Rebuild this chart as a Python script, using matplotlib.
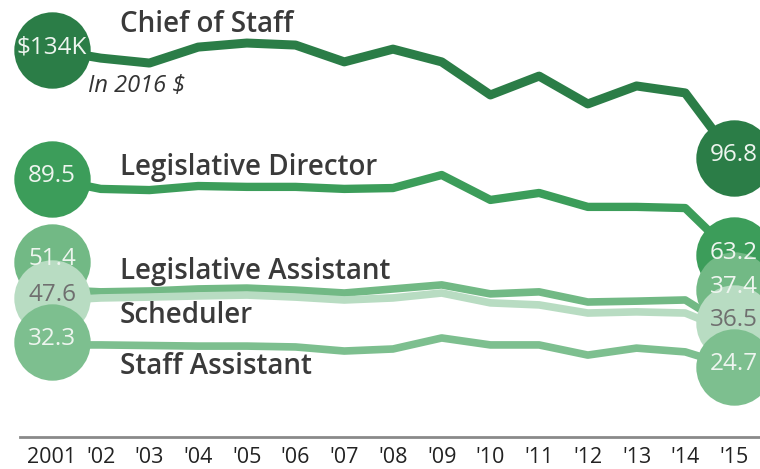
import matplotlib
matplotlib.use("Agg")
import matplotlib.pyplot as plt
import matplotlib.transforms as mtransforms

plt.rcParams['font.family'] = ['Open Sans', 'DejaVu Sans']

years = list(range(2001, 2016))
tick_labels = ['2001', "'02", "'03", "'04", "'05", "'06", "'07", "'08",
               "'09", "'10", "'11", "'12", "'13", "'14", "'15"]

names = ['Chief of Staff', 'Legislative Director', 'Legislative Assistant',
         'Scheduler', 'Staff Assistant']

chief = [134, 131.2, 129.5, 135.0, 136.4, 135.7, 129.9, 134.3, 129.9,
         118.5, 125.0, 115.4, 121.6, 119.2, 96.8]
leg_dir = [89.5, 86.1, 85.7, 87.1, 86.8, 86.8, 86.1, 86.4, 90.9,
           82.3, 84.7, 79.9, 79.9, 79.5, 63.2]
leg_asst = [51.4, 50.6, 50.9, 51.6, 51.9, 51.2, 50.2, 51.6, 53.0,
            49.9, 50.6, 47.1, 47.4, 47.8, 37.4]
scheduler = [47.6, 48.5, 48.8, 49.2, 49.5, 48.8, 47.8, 48.5, 50.2,
             46.8, 46.1, 43.3, 43.7, 43.3, 36.5]
staff_asst = [32.3, 32.3, 32.1, 31.9, 31.9, 31.6, 30.2, 30.9, 34.7,
              32.3, 32.3, 28.8, 31.2, 29.9, 24.7]

series = [chief, leg_dir, leg_asst, scheduler, staff_asst]
colors = ['#2b7d47', '#3c9d5a', '#72b985', '#b8dcc2', '#7dbf8f']
text_colors = ['#eef5ef', '#eef5ef', '#eef5ef', '#6f6f6f', '#eef5ef']
widths = [6.5, 6, 5.5, 5.5, 5.5]
# circle shifts (points) so the end bubbles don't sit on each other
left_shift = [0, 0, 20, 2, 2]
right_shift = [0, 0, 29, 7, 0]
# where the series names sit (pixels from top-left)
name_pos = [(120, 25), (120, 167), (120, 272), (120, 315), (120, 367)]

W, H = 760, 469
fig = plt.figure(figsize=(W / 100, H / 100), dpi=100)
ax = fig.add_axes([0, 32 / H, 1, 437 / H])
ax.set_xlim(2001 - 52 / 48.71, 2001 + 708 / 48.71)
ax.set_ylim(134 - 387 / 2.9, 134 + 50 / 2.9)

for i, vals in enumerate(series):
    ax.plot(years, vals, color=colors[i], lw=widths[i], zorder=2 + i,
            solid_capstyle='round')

for i, vals in enumerate(series):
    for x, v, sh, lab in [(years[0], vals[0], left_shift[i],
                           '$%dK' % vals[0] if i == 0 else '%.1f' % vals[0]),
                          (years[-1], vals[-1], right_shift[i], '%.1f' % vals[-1])]:
        tr = ax.transData + mtransforms.ScaledTranslation(0, sh / 72, fig.dpi_scale_trans)
        ax.plot([x], [v], 'o', ms=55, color=colors[i], mec='none',
                transform=tr, clip_on=False, zorder=10 + i)
        tr2 = ax.transData + mtransforms.ScaledTranslation(0, (sh + 2) / 72, fig.dpi_scale_trans)
        ax.text(x, v, lab, transform=tr2, ha='center', va='center',
                fontsize=17.5, color=text_colors[i], zorder=20 + i, clip_on=False)

for i, nm in enumerate(names):
    px, py = name_pos[i]
    fig.text(px / W, 1 - py / H, nm, ha='left', va='center', fontsize=20,
             color='#3a3a3a', fontweight='semibold', zorder=30)

fig.text(88 / W, 1 - 86 / H, 'In 2016 $', ha='left', va='center',
         fontsize=17, style='italic', color='#333333')

for s in ['top', 'left', 'right']:
    ax.spines[s].set_visible(False)
ax.spines['bottom'].set_color('#8a8a8a')
ax.spines['bottom'].set_linewidth(2)
ax.spines['bottom'].set_bounds(2001 - 32 / 48.71, 2001 + 708 / 48.71)
ax.set_yticks([])
ax.set_xticks(years)
ax.set_xticklabels(tick_labels, fontsize=15.5, color='#222222')
ax.tick_params(axis='x', length=0, pad=7)
ax.patch.set_alpha(0)

fig.savefig('out.png', dpi=100)
